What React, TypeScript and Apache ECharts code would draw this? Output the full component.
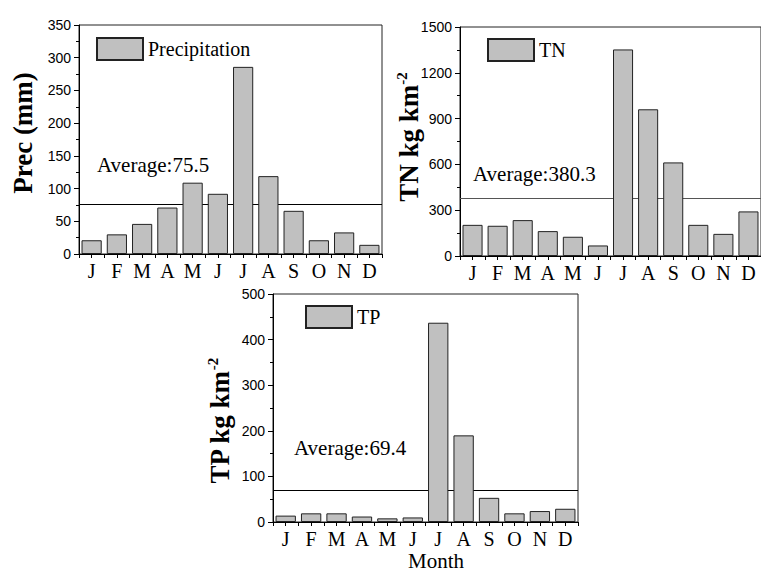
import React, { useEffect, useRef } from "react";
import * as echarts from "echarts";

const months = ["J", "F", "M", "A", "M", "J", "J", "A", "S", "O", "N", "D"];
const precipitation = [21, 30, 46, 71, 109, 92, 286, 119, 66, 21, 33, 14];
const tn = [204, 198, 235, 163, 126, 69, 1353, 961, 613, 204, 145, 292];
const tp = [14, 19, 19, 12, 8, 10, 437, 190, 53, 19, 24, 29];
const averages = [75.5, 380.3, 69.4];
const seriesNames = ["Precipitation", "TN", "TP"];
const yMax = [350, 1500, 500];
const yInterval = [50, 300, 100];

const SERIF = "'Liberation Serif', 'Times New Roman', serif";
const SANS = "'Liberation Sans', Arial, sans-serif";

export default function App() {
  const ref = useRef<HTMLDivElement>(null);
  useEffect(() => {
    if (!ref.current) return;
    const chart = echarts.init(ref.current, undefined, { renderer: "svg" });
    const grids = [
      { left: 79, top: 25, width: 303, height: 229 },
      { left: 460, top: 27, width: 304, height: 229 },
      { left: 273, top: 294, width: 305, height: 228 },
    ];
    const datas = [precipitation, tn, tp];
    const xAxis: any[] = [];
    grids.forEach((_, i) => {
      xAxis.push({
        type: "category",
        gridIndex: i,
        position: "bottom",
        data: months,
        axisLine: { lineStyle: { color: "#000", width: 1 } },
        axisTick: { show: true, alignWithLabel: false, length: 4, lineStyle: { color: "#000" } },
        axisLabel: { color: "#000", fontFamily: SERIF, fontSize: 20, lineHeight: 20, margin: 7, interval: 0 },
        splitLine: { show: false },
      });
      xAxis.push({
        type: "category",
        gridIndex: i,
        position: "bottom",
        data: months,
        axisLine: { show: false },
        axisTick: { show: true, alignWithLabel: true, length: 4, lineStyle: { color: "#000" } },
        axisLabel: { show: false },
        splitLine: { show: false },
      });
    });
    const yAxis = grids.map((_, i) => ({
      type: "value",
      gridIndex: i,
      min: 0,
      max: yMax[i],
      interval: yInterval[i],
      axisLine: { show: true, lineStyle: { color: "#000", width: 1 } },
      axisTick: { show: true, length: 5, lineStyle: { color: "#000" } },
      minorTick: { show: true, splitNumber: 2, length: 3, lineStyle: { color: "#000" } },
      axisLabel: {
        color: "#000",
        fontFamily: SANS,
        fontSize: 14,
        margin: 8,
        formatter: (v: number) => String(v),
      },
      splitLine: { show: false },
    }));
    const lineColors = ["#000", "#555", "#000"];
    const series = datas.map((d, i) => ({
      type: "bar",
      name: seriesNames[i],
      xAxisIndex: i * 2,
      yAxisIndex: i,
      data: d,
      barWidth: "80%",
      z: 10,
      itemStyle: { color: "#c0c0c0", borderColor: "#222", borderWidth: 1 },
      emphasis: { disabled: true },
      markLine: {
        silent: true,
        symbol: "none",
        z: 3,
        label: { show: false },
        lineStyle: { color: lineColors[i], width: 1, type: "solid" },
        emphasis: { disabled: true },
        data: [{ yAxis: averages[i] }],
      },
    }));
    const legendPos = [
      { left: 96, top: 37 },
      { left: 487, top: 38 },
      { left: 305, top: 305 },
    ];
    const legend = legendPos.map((p, i) => ({
      ...p,
      data: [seriesNames[i]],
      icon: "rect",
      itemWidth: 46,
      itemHeight: 22,
      padding: 0,
      selectedMode: false,
      textStyle: { fontFamily: SERIF, fontSize: 20, color: "#000" },
    }));
    const avgPos = [
      [97, 165],
      [473, 174],
      [294, 448],
    ];
    const titlePos = [
      [22.5, 133],
      [409, 137],
      [220, 421],
    ];
    const titles = [
      "{b|Prec (mm)}",
      "{b|TN kg km}{s|-2}",
      "{b|TP kg km}{s|-2}",
    ];
    const graphic: any[] = [];
    averages.forEach((a, i) => {
      graphic.push({
        type: "text",
        x: avgPos[i][0],
        y: avgPos[i][1],
        silent: true,
        style: {
          text: "Average:" + a,
          fontFamily: SERIF,
          fontSize: 21,
          fill: "#000",
          align: "left",
          verticalAlign: "middle",
        },
      });
      graphic.push({
        type: "text",
        x: titlePos[i][0],
        y: titlePos[i][1],
        rotation: Math.PI / 2,
        silent: true,
        style: {
          text: titles[i],
          align: "center",
          verticalAlign: "middle",
          rich: {
            b: { fontFamily: SERIF, fontSize: 27, fontWeight: "bold", fill: "#000", lineHeight: 30 },
            s: { fontFamily: SERIF, fontSize: 15, fontWeight: "bold", fill: "#000", lineHeight: 15, verticalAlign: "top" },
          },
        },
      });
    });
    graphic.push({
      type: "text",
      x: 436,
      y: 561,
      silent: true,
      style: {
        text: "Month",
        fontFamily: SERIF,
        fontSize: 21,
        fill: "#000",
        align: "center",
        verticalAlign: "middle",
      },
    });
    chart.setOption({
      animation: false,
      backgroundColor: "#fff",
      grid: grids.map((g) => ({ ...g, show: true, borderColor: "#222", borderWidth: 1, backgroundColor: "transparent" })),
      xAxis,
      yAxis,
      legend,
      series,
      graphic,
    });
    return () => chart.dispose();
  }, []);
  return (
    <div
      ref={ref}
      style={{ position: "fixed", left: 0, top: 0, width: 761, height: 572 }}
    />
  );
}
